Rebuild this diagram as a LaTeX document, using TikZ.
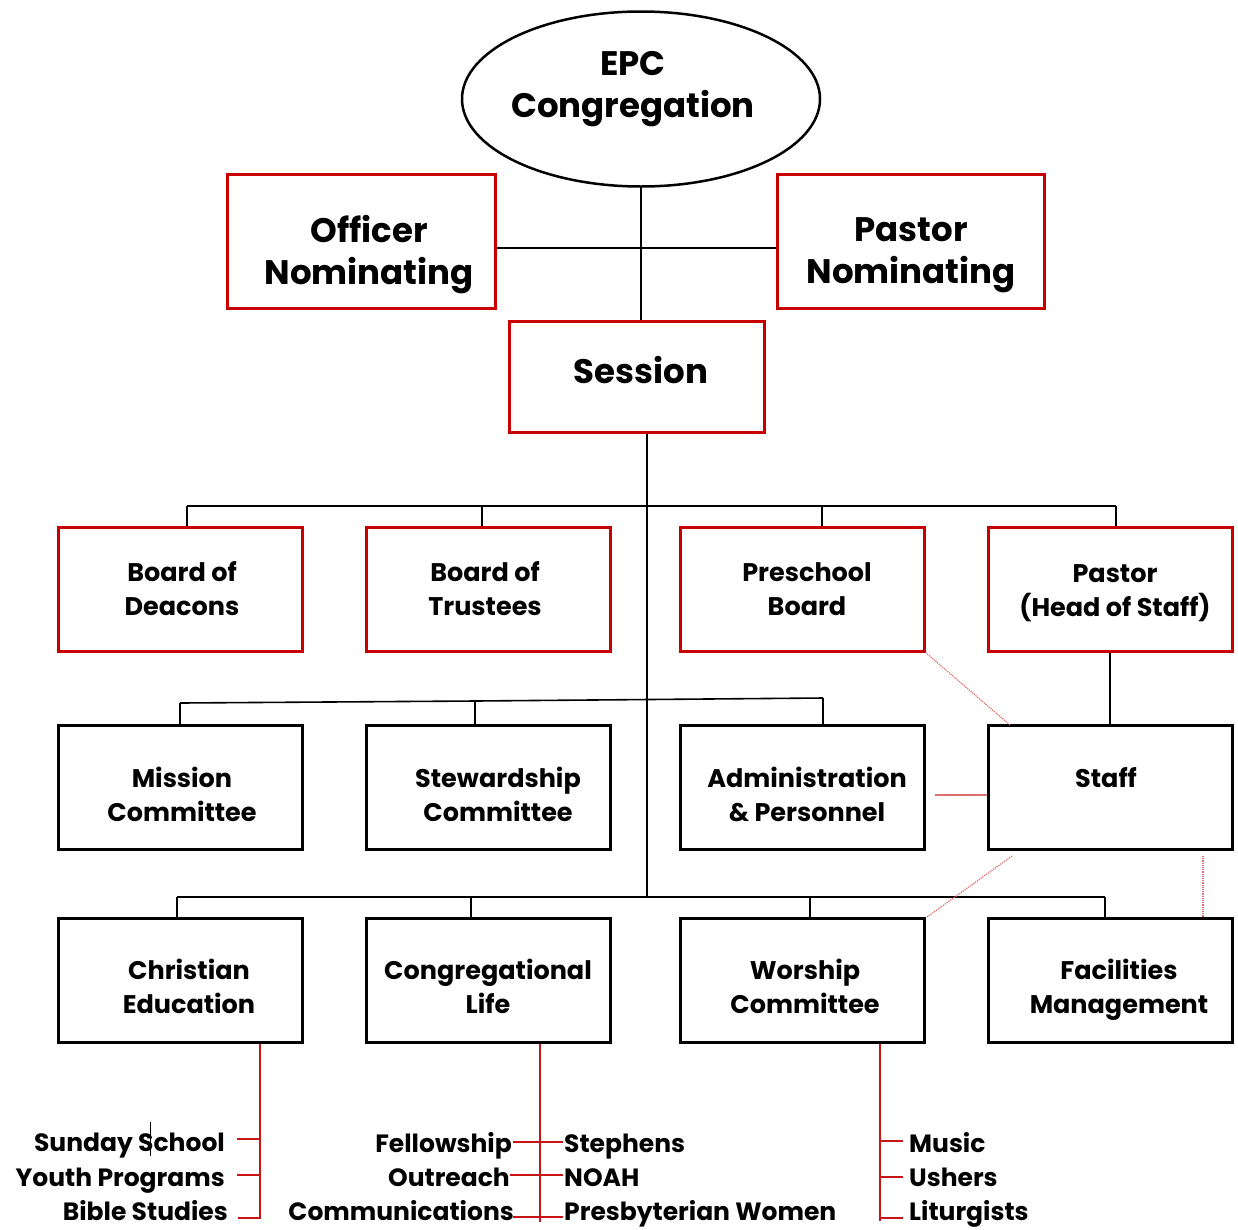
\documentclass[tikz,border=0pt]{standalone}
\usepackage{fontspec}
\setmainfont{Poppins}
\usetikzlibrary{shapes.geometric}
\definecolor{boxred}{RGB}{200,0,0}
\definecolor{linered}{RGB}{200,20,20}
\definecolor{dotred}{RGB}{225,110,110}
\begin{document}
\begin{tikzpicture}[x=1pt,y=-1pt,
  bigtext/.style={font=\fontsize{34}{42}\selectfont\bfseries, align=center, inner sep=0pt},
  smalltext/.style={font=\fontsize{25.5}{34}\selectfont\bfseries, align=center, inner sep=0pt},
  redbox/.style={draw=boxred, line width=3pt, inner sep=0pt},
  blackbox/.style={draw=black, line width=3pt, inner sep=0pt, minimum width=244pt, minimum height=124pt},
  rowred/.style={redbox, minimum width=244pt, minimum height=124pt},
  conn/.style={draw=black, line width=1.6pt},
  redline/.style={draw=linered, line width=1.4pt},
  reddot/.style={draw=dotred, line width=1.2pt, densely dotted},
  listlbl/.style={font=\fontsize{25}{30}\selectfont\bfseries, inner sep=0pt}
]
\useasboundingbox (0,0) rectangle (1238,1229);
\fill[white] (0,0) rectangle (1238,1229);

% top
\node[ellipse, draw=black, line width=2.5pt, minimum width=358pt, minimum height=175pt] (ell) at (641,99) {};
\node[bigtext] (ellT) at (633,89) {EPC\\Congregation};
\node[redbox, minimum width=268pt, minimum height=134pt] (off) at (361,241) {};
\node[bigtext] (offT) at (369,255) {Officer\\Nominating};
\node[redbox, minimum width=267pt, minimum height=134pt] (pas) at (910.5,241) {};
\node[bigtext] (pasT) at (911,255) {Pastor\\Nominating};
\node[redbox, minimum width=255pt, minimum height=111pt] (ses) at (636.5,376.5) {};
\node[bigtext] (sesT) at (641,370.5) {Session};

% row 1
\node[rowred] (r1a) at (180,589) {};
\node[rowred] (r1b) at (488,589) {};
\node[rowred] (r1c) at (802,589) {};
\node[rowred] (r1d) at (1110,589) {};
\node[smalltext] (r1aT) at (182,589) {Board of\\Deacons};
\node[smalltext] (r1bT) at (485,589) {Board of\\Trustees};
\node[smalltext] (r1cT) at (807,589) {Preschool\\Board};
\node[smalltext] (r1dT) at (1115,593) {Pastor\\(Head of Staff)};

% row 2
\node[blackbox] (r2a) at (180,787.5) {};
\node[blackbox] (r2b) at (488,787.5) {};
\node[blackbox] (r2c) at (802,787.5) {};
\node[blackbox] (r2d) at (1110,787.5) {};
\node[smalltext] (r2aT) at (182,794) {Mission\\Committee};
\node[smalltext] (r2bT) at (498,794) {Stewardship\\Committee};
\node[smalltext] (r2cT) at (807,794) {Administration\\\& Personnel};
\node[smalltext, anchor=base] (r2dT) at (1106,787) {Staff};

% row 3
\node[blackbox] (r3a) at (180,980) {};
\node[blackbox] (r3b) at (488,980) {};
\node[blackbox] (r3c) at (802,980) {};
\node[blackbox] (r3d) at (1110,980) {};
\node[smalltext] (r3aT) at (189,986) {Christian\\Education};
\node[smalltext] (r3bT) at (488,986) {Congregational\\Life};
\node[smalltext] (r3cT) at (805,986) {Worship\\Committee};
\node[smalltext] (r3dT) at (1119,990) {Facilities\\Management};

% coordinates
\coordinate (lvl0) at (0,248);
\coordinate (trunk) at (647,897);
\coordinate (b1a) at (187,506);
\coordinate (b1b) at (482,506);
\coordinate (b1c) at (822,506);
\coordinate (b1d) at (1116,506);
\coordinate (b2a) at (180,703);
\coordinate (b2b) at (475,701);
\coordinate (b2c) at (823,698);
\coordinate (b3a) at (177,897);
\coordinate (b3b) at (471,897);
\coordinate (b3c) at (810,897);
\coordinate (b3d) at (1105,897);

% top connectors
\draw[conn] (ell.south) -- (ell.south |- ses.north);
\draw[conn] (off.east |- lvl0) -- (pas.west |- lvl0);
\draw[conn] (trunk |- ses.south) -- (trunk);

% bus 1
\draw[conn] (b1a) -- (b1d);
\foreach \c/\b in {b1a/r1a,b1b/r1b,b1c/r1c,b1d/r1d}
  \draw[conn] (\c) -- (\c |- \b.north);
% bus 2
\draw[conn] (b2a) -- (b2b) -- (b2c);
\foreach \c/\b in {b2a/r2a,b2b/r2b,b2c/r2c}
  \draw[conn] (\c) -- (\c |- \b.north);
% bus 3
\draw[conn] (b3a) -- (b3d);
\foreach \c/\b in {b3a/r3a,b3b/r3b,b3c/r3c,b3d/r3d}
  \draw[conn] (\c) -- (\c |- \b.north);

% pastor to staff
\draw[conn] (r1d.south) -- (r2d.north);

% red links
\coordinate (s1) at (1010,725);
\draw[reddot] (r1c.south east) -- (s1);
\coordinate (as1) at (935,795);
\draw[draw=dotred, line width=1.2pt] (as1) -- (as1 -| r2d.west);
\coordinate (sw1) at (1012,856);
\coordinate (sw2) at (927,917);
\draw[reddot] (sw1) -- (sw2);
\coordinate (sf1) at (1203,856);
\draw[reddot] (sf1) -- (sf1 |- r3d.north);

% lists: Christian Education
\coordinate (ce) at (260,1219);
\draw[redline] (ce |- r3a.south) -- (ce);
\coordinate (ce1) at (237,1139);
\coordinate (ce2) at (237,1175);
\coordinate (ce3) at (238,1218);
\foreach \c in {ce1,ce2,ce3} \draw[redline] (\c) -- (\c -| ce);
\node[listlbl, anchor=base east] (l1) at (225,1151) {Sunday School};
\node[listlbl, anchor=base east] (l2) at (225,1186) {Youth Programs};
\node[listlbl, anchor=base east] (l3) at (228,1220) {Bible Studies};
\coordinate (cur) at (150,1122);
\draw[black, line width=1pt] (cur) -- ++(0,34);

% Congregational Life
\coordinate (cl) at (540,1222);
\draw[redline] (cl |- r3b.south) -- (cl);
\node[listlbl, anchor=base east] (m1) at (512,1152) {Fellowship};
\node[listlbl, anchor=base east] (m2) at (510,1186) {Outreach};
\node[listlbl, anchor=base east] (m3) at (514,1220) {Communications};
\node[listlbl, anchor=base west] (n1) at (564,1152) {Stephens};
\node[listlbl, anchor=base west] (n2) at (564,1186) {NOAH};
\node[listlbl, anchor=base west] (n3) at (564,1220) {Presbyterian Women};
\coordinate (cl1) at (513,1142);
\coordinate (cl2) at (510,1175);
\coordinate (cl3) at (513,1217);
\coordinate (cr1) at (563,1142);
\coordinate (cr2) at (563,1175);
\coordinate (cr3) at (563,1217);
\draw[redline] (cl1) -- (cr1);
\draw[redline] (cl2) -- (cr2);
\draw[redline] (cl3) -- (cr3);

% Worship
\coordinate (wc) at (880,1221);
\draw[redline] (wc |- r3c.south) -- (wc);
\coordinate (w1) at (903,1141);
\coordinate (w2) at (903,1177);
\coordinate (w3) at (903,1218);
\foreach \c in {w1,w2,w3} \draw[redline] (\c -| wc) -- (\c);
\node[listlbl, anchor=base west] (o1) at (909,1152) {Music};
\node[listlbl, anchor=base west] (o2) at (909,1186) {Ushers};
\node[listlbl, anchor=base west] (o3) at (909,1220) {Liturgists};
\end{tikzpicture}
\end{document}
